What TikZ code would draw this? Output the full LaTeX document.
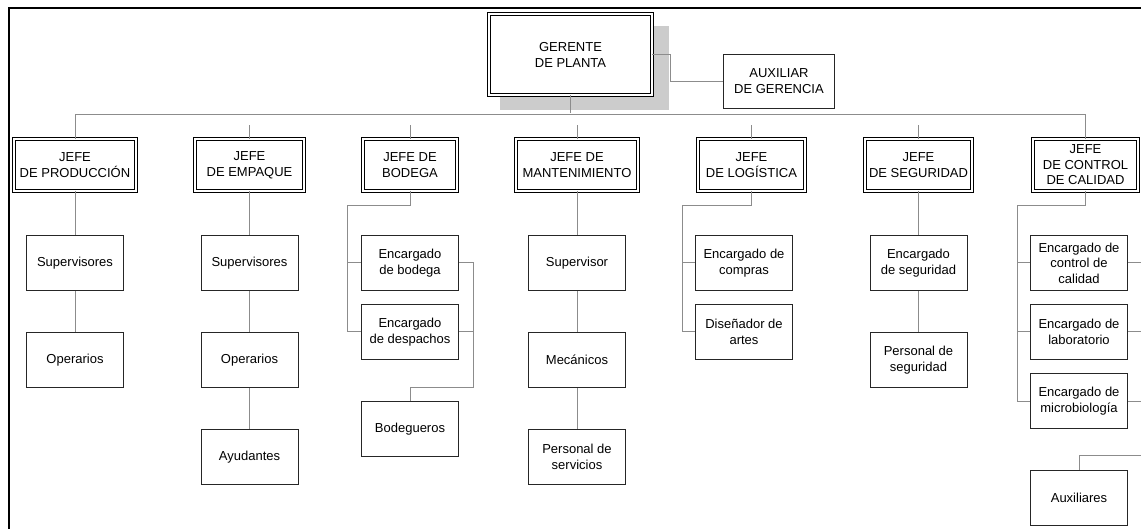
\documentclass[tikz,border=0pt]{standalone}
\usepackage{fontspec}
\setmainfont{Liberation Sans}
\usetikzlibrary{positioning,calc}
\definecolor{linegray}{HTML}{8C8C8C}
\definecolor{shadowgray}{HTML}{CCCCCC}

\begin{document}
\begin{tikzpicture}[
  x=1pt, y=-1pt,
  font=\fontsize{13}{16}\selectfont,
  jefe/.style={draw=black,line width=0.8pt,double=white,double distance=2.2pt,
    inner sep=1pt,align=center,minimum height=52pt},
  sub/.style={draw=black!85,line width=1pt,inner sep=1pt,align=center,
    minimum width=97pt,minimum height=55pt},
  conn/.style={draw=linegray,line width=1pt},
  node distance=41pt]
  \useasboundingbox (0,0) rectangle (1141,529);
  \clip (0,0) rectangle (1141,529);
  \draw[line width=2pt] (9,8) rectangle (1160,560);
  % top of the chart
  \fill[shadowgray] (500,26) rectangle (669,110);
  \node[jefe,minimum width=163pt,minimum height=81pt,fill=white] (ger) at (570.5,54.5)
    {GERENTE\\DE PLANTA};
  \node[draw=black!85,line width=1pt,inner sep=1pt,align=center,
    minimum width=111pt,minimum height=54pt] (aux0) at (779,81.5)
    {AUXILIAR\\DE GERENCIA};
  \coordinate (bus) at (0,113);
  % jefes
  \node[jefe,minimum width=122pt] (jp) at (75,165) {JEFE\\DE PRODUCCIÓN};
  \node[jefe,minimum width=109pt] (je) at (249.5,165) {JEFE\\DE EMPAQUE};
  \node[jefe,minimum width=94pt] (jb) at (410,165) {JEFE DE\\BODEGA};
  \node[jefe,minimum width=122pt] (jm) at (577,165) {JEFE DE\\MANTENIMIENTO};
  \node[jefe,minimum width=107pt] (jl) at (751.5,165) {JEFE\\DE LOGÍSTICA};
  \node[jefe,minimum width=107pt] (js) at (918.5,165) {JEFE\\DE SEGURIDAD};
  \node[jefe,minimum width=105pt,font=\fontsize{13}{15.5}\selectfont] (jcc) at (1085.5,165)
    {JEFE\\DE CONTROL\\DE CALIDAD};
  % produccion
  \node[sub] (sup1) at (75,263) {Supervisores};
  \node[sub,below=of sup1] (op1) {Operarios};
  % empaque
  \node[sub] (sup2) at (249.5,263) {Supervisores};
  \node[sub,below=of sup2] (op2) {Operarios};
  \node[sub,below=of op2] (ay2) {Ayudantes};
  % bodega
  \node[sub] (eb) at (410,263) {Encargado\\de bodega};
  \node[sub,below=13pt of eb] (ed) {Encargado\\de despachos};
  \node[sub,below=of ed] (bod) {Bodegueros};
  % mantenimiento
  \node[sub] (sup4) at (577,263) {Supervisor};
  \node[sub,below=of sup4] (mec) {Mecánicos};
  \node[sub,below=of mec] (pser) {Personal de\\servicios};
  % logistica
  \node[sub] (ec) at (744,263) {Encargado de\\compras};
  \node[sub,below=13pt of ec] (da) {Diseñador de\\artes};
  % seguridad
  \node[sub] (es) at (918.5,263) {Encargado\\de seguridad};
  \node[sub,below=of es] (pseg) {Personal de\\seguridad};
  % control de calidad
  \node[sub,font=\fontsize{13}{15.5}\selectfont] (ecc) at (1079,263)
    {Encargado de\\control de\\calidad};
  \node[sub,below=13pt of ecc] (elab) {Encargado de\\laboratorio};
  \node[sub,below=13pt of elab] (emic) {Encargado de\\microbiología};
  \node[sub,below=41pt of emic] (aux) {Auxiliares};
  % connectors
  \draw[conn] (ger.south) -- (ger.south |- bus);
  \draw[conn] (ger.east) -- ++(18,0) |- (aux0.west);
  \draw[conn] (jp.north) -- ++(0,-24) -| (jcc.north);
  \foreach \j in {je,jb,jm,jl,js} { \draw[conn] (\j.north) -- ++(0,-14); }
  \draw[conn] (jp.south) -- (sup1.north);
  \draw[conn] (sup1.south) -- (op1.north);
  \draw[conn] (je.south) -- (sup2.north);
  \draw[conn] (sup2.south) -- (op2.north);
  \draw[conn] (op2.south) -- (ay2.north);
  \draw[conn] (jb.south) -- ++(0,14) -| ([xshift=-14pt]ed.west) -- (ed.west);
  \draw[conn] ([xshift=-14pt]eb.west) -- (eb.west);
  \draw[conn] (eb.east) -- ++(14,0) |- ([yshift=14pt]bod.north) -- (bod.north);
  \draw[conn] (ed.east) -- ++(14,0);
  \draw[conn] (jm.south) -- (sup4.north);
  \draw[conn] (sup4.south) -- (mec.north);
  \draw[conn] (mec.south) -- (pser.north);
  \draw[conn] (jl.south) -- ++(0,14) -| ([xshift=-13pt]da.west) -- (da.west);
  \draw[conn] ([xshift=-13pt]ec.west) -- (ec.west);
  \draw[conn] (js.south) -- (es.north);
  \draw[conn] (es.south) -- (pseg.north);
  \draw[conn] (jcc.south) -- ++(0,14) -| ([xshift=-13pt]emic.west) -- (emic.west);
  \foreach \s in {ecc,elab} { \draw[conn] ([xshift=-13pt]\s.west) -- (\s.west); }
  \draw[conn] (ecc.east) -- ++(22,0) |- ([yshift=15pt]aux.north) -- (aux.north);
  \foreach \s in {elab,emic} { \draw[conn] (\s.east) -- ++(22,0); }
\end{tikzpicture}
\end{document}
